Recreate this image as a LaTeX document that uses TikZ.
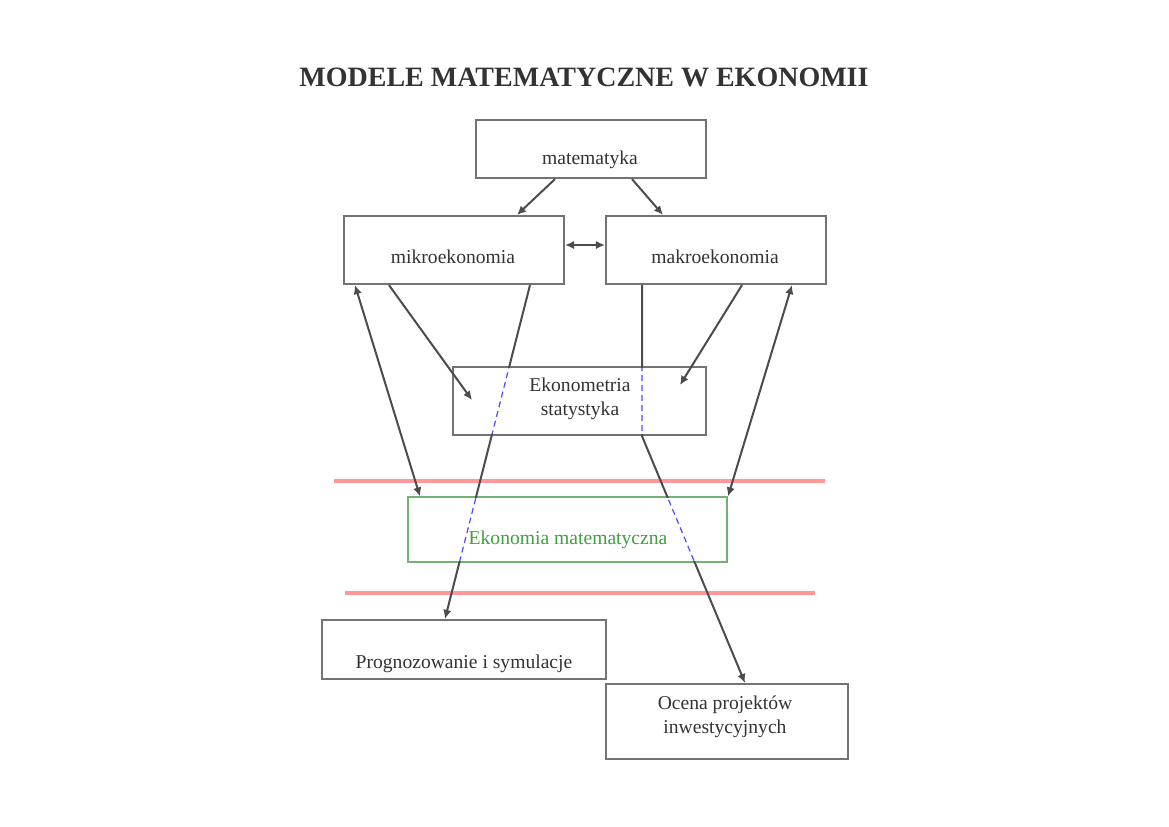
\documentclass[tikz,border=0pt]{standalone}
\usepackage{fontspec}
\setmainfont{Liberation Serif}
\usetikzlibrary{arrows.meta,calc}
\begin{document}
\begin{tikzpicture}[x=0.5pt,y=-0.5pt,
  box/.style={draw=black!55,line width=1.1pt,fill=white,inner sep=0pt,rectangle},
  gbox/.style={draw=green!45!black!55,line width=0.6pt,fill=white,inner sep=0pt,rectangle},
  txt/.style={font=\fontsize{9.8}{12}\selectfont,text=black!80,inner sep=1pt,align=center},
  conn/.style={draw=black!70,line width=1pt},
  tp/.tip={Latex[length=4.5pt,width=4.2pt]},
  tip/.style={-tp},
  hidden/.style={draw=blue!70,line width=0.6pt,dash pattern=on 3pt off 2pt},
  redline/.style={draw=red!40,line width=2pt}]
\useasboundingbox (0,0) rectangle (1169,826);
\fill[white] (0,0) rectangle (1169,826);
% title
\node[font=\fontsize{14}{16}\selectfont\bfseries,text=black!80] (title) at (584,77) {MODELE MATEMATYCZNE W EKONOMII};
% red lines
\coordinate (r1a) at (334,481); \coordinate (r1b) at (825,481);
\coordinate (r2a) at (345,593); \coordinate (r2b) at (815,593);
\draw[redline] (r1a) -- (r1b);
\draw[redline] (r2a) -- (r2b);
% boxes
\node[box,minimum width=115pt,minimum height=29pt] (mat) at (591,149) {};
\node[box,minimum width=110pt,minimum height=34pt] (mikro) at (454,250) {};
\node[box,minimum width=110pt,minimum height=34pt] (makro) at (716,250) {};
\node[box,minimum width=126.5pt,minimum height=34pt] (eko) at (579.5,401) {};
\node[gbox,minimum width=159.5pt,minimum height=32.5pt] (emat) at (567.5,529.5) {};
\node[box,minimum width=142pt,minimum height=29.5pt] (prog) at (464,649.5) {};
\node[box,minimum width=121pt,minimum height=37.5pt] (ocena) at (727,721.5) {};
% connectors
\draw[conn,tip] ([xshift=-18pt]mat.south) -- ([xshift=31.5pt]mikro.north);
\draw[conn,tip] ([xshift=20.5pt]mat.south) -- ([xshift=-26.5pt]makro.north);
\draw[conn,tp-tp] ([yshift=2.5pt]mikro.east) -- ([yshift=2.5pt]makro.west);
\draw[conn,tp-tp] ([xshift=-49.5pt]mikro.south) -- ([xshift=-73.75pt]emat.north);
\draw[conn,tip] ([xshift=-32.5pt]mikro.south) -- ([xshift=-53.75pt,yshift=0.5pt]eko.center);
\draw[conn,tip] ([xshift=38pt]mikro.south) -- ([xshift=-9.5pt]prog.north);
\draw[conn,tip] ([xshift=-37pt]makro.south) -- ([xshift=31.25pt]eko.south) -- ([xshift=9pt]ocena.north);
\draw[conn,tip] ([xshift=13pt]makro.south) -- ([xshift=50.25pt,yshift=8pt]eko.center);
\draw[conn,tp-tp] ([xshift=38pt]makro.south) -- ([xshift=80.25pt]emat.north);
% hidden parts inside boxes
\foreach \bx in {eko,emat}{
\begin{scope}
\clip ([shift={(1.2pt,1.2pt)}]\bx.south west) rectangle ([shift={(-1.2pt,-1.2pt)}]\bx.north east);
\draw[white,line width=2.5pt] ([xshift=38pt]mikro.south) -- ([xshift=-9.5pt]prog.north);
\draw[white,line width=2.5pt] ([xshift=-37pt]makro.south) -- ([xshift=31.25pt]eko.south) -- ([xshift=9pt]ocena.north);
\draw[hidden] ([xshift=38pt]mikro.south) -- ([xshift=-9.5pt]prog.north);
\draw[hidden] ([xshift=-37pt]makro.south) -- ([xshift=31.25pt]eko.south) -- ([xshift=9pt]ocena.north);
\end{scope}}
% texts
\node[txt] (matT) at (590,160) {matematyka};
\node[txt] (mikroT) at (453,257) {mikroekonomia};
\node[txt] (makroT) at (715,257) {makroekonomia};
\node[txt] (ekoT) at (580,399) {Ekonometria\\statystyka};
\node[txt,text=green!50!black!75] (ematT) at (568,540) {Ekonomia matematyczna};
\node[txt] (progT) at (464,664) {Prognozowanie i symulacje};
\node[txt] (ocenaT) at (725,717) {Ocena projektów\\inwestycyjnych};
\end{tikzpicture}
\end{document}
